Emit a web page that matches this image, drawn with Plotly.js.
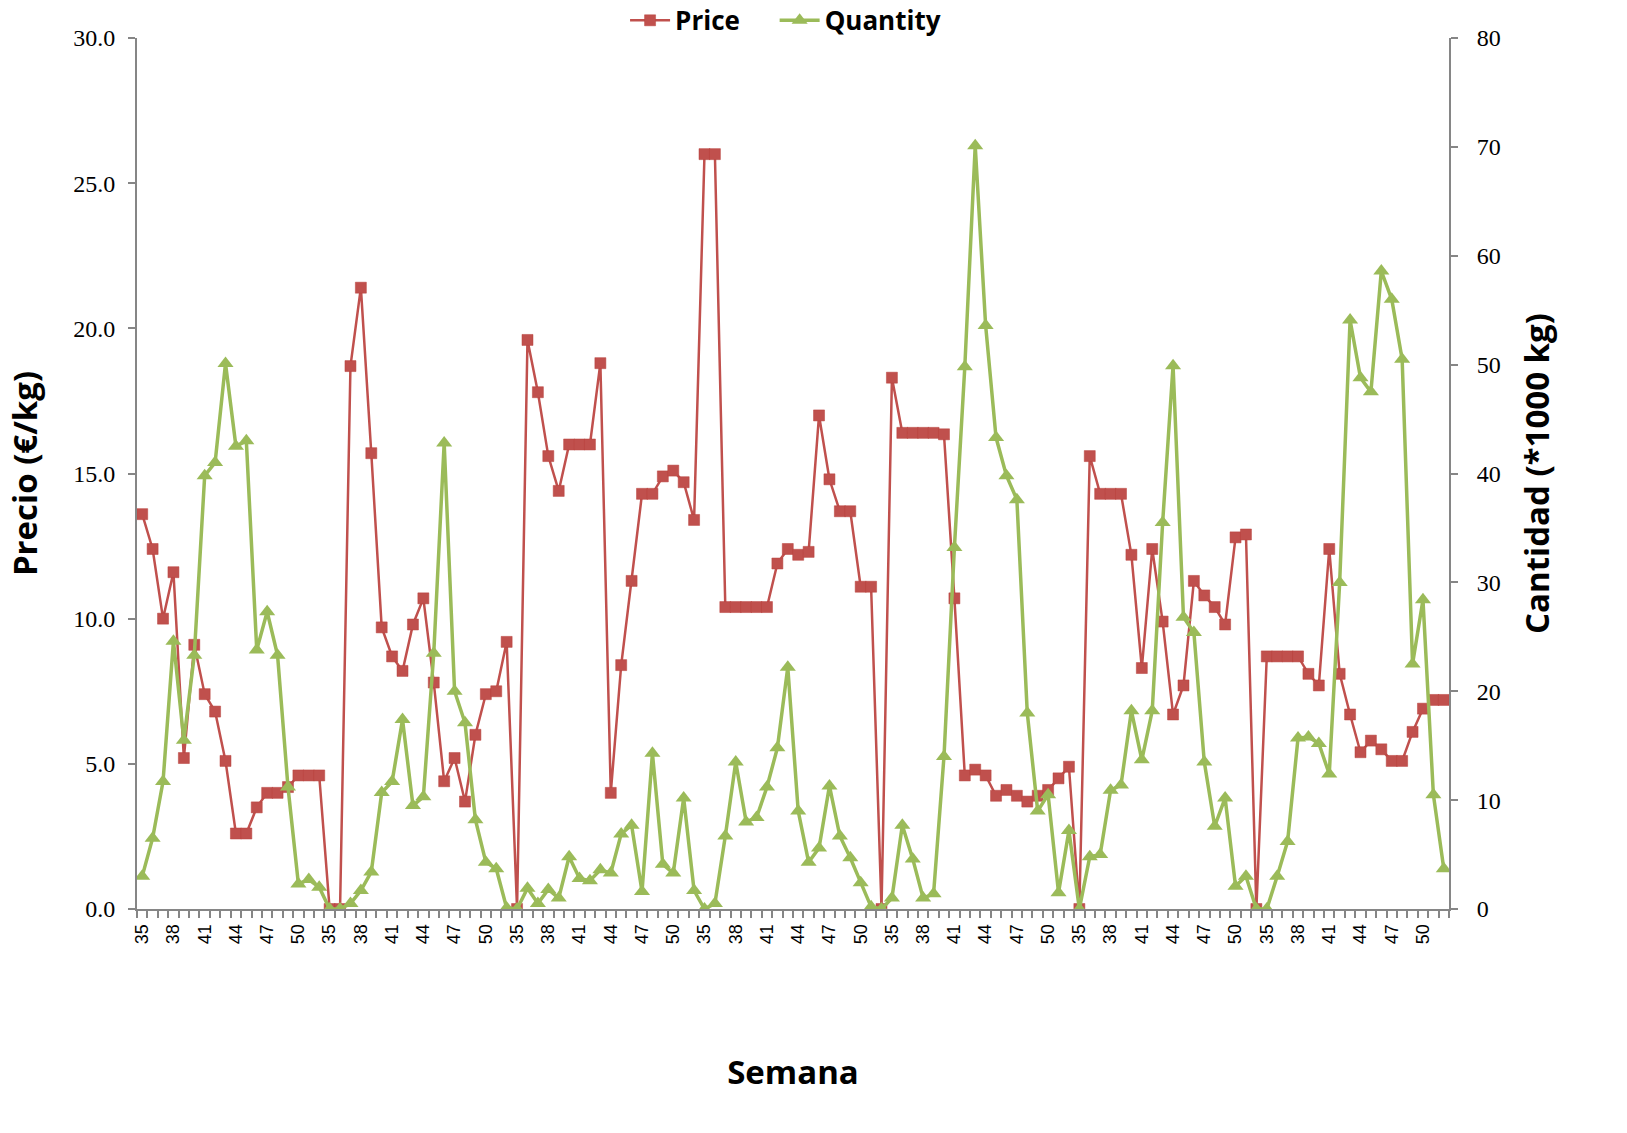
<!DOCTYPE html>
<html>
<head>
<meta charset="utf-8">
<script src="https://cdn.plot.ly/plotly-3.0.1.min.js"></script>
<style>
  html, body { margin: 0; padding: 0; background: #ffffff; }
  #chart { width: 1627px; height: 1133px; }
</style>
</head>
<body>
<div id="chart"></div>
<script>
// Week numbers of one season (categories repeat for every season)
const weeks = [35, 36, 37, 38, 39, 40, 41, 42, 43, 44, 45, 46, 47, 48, 49, 50, 51, 52];
const seasonCount = 7;

// Precio (€/kg)
const price = [
  13.6, 12.4, 10.0, 11.6, 5.2, 9.1, 7.4, 6.8, 5.1, 2.6, 2.6, 3.5, 4.0, 4.0, 4.2, 4.6, 4.6, 4.6,
  0, 0, 18.7, 21.4, 15.7, 9.7, 8.7, 8.2, 9.8, 10.7, 7.8, 4.4, 5.2, 3.7, 6.0, 7.4, 7.5, 9.2,
  0, 19.6, 17.8, 15.6, 14.4, 16.0, 16.0, 16.0, 18.8, 4.0, 8.4, 11.3, 14.3, 14.3, 14.9, 15.1, 14.7, 13.4,
  26.0, 26.0, 10.4, 10.4, 10.4, 10.4, 10.4, 11.9, 12.4, 12.2, 12.3, 17.0, 14.8, 13.7, 13.7, 11.1, 11.1, 0,
  18.3, 16.4, 16.4, 16.4, 16.4, 16.35, 10.7, 4.6, 4.8, 4.6, 3.9, 4.1, 3.9, 3.7, 3.9, 4.1, 4.5, 4.9,
  0, 15.6, 14.3, 14.3, 14.3, 12.2, 8.3, 12.4, 9.9, 6.7, 7.7, 11.3, 10.8, 10.4, 9.8, 12.8, 12.9, 0,
  8.7, 8.7, 8.7, 8.7, 8.1, 7.7, 12.4, 8.1, 6.7, 5.4, 5.8, 5.5, 5.1, 5.1, 6.1, 6.9, 7.2, 7.2
];

// Cantidad (*1000 kg)
const quantity = [
  3.0, 6.5, 11.7, 24.6, 15.5, 23.3, 39.8, 41.0, 50.1, 42.5, 43.0, 23.8, 27.3, 23.3, 11.2, 2.3, 2.7, 2.0,
  0, 0, 0.5, 1.7, 3.4, 10.7, 11.7, 17.4, 9.5, 10.3, 23.5, 42.8, 20.0, 17.1, 8.2, 4.3, 3.7, 0.1,
  0, 1.9, 0.5, 1.8, 1.0, 4.8, 2.8, 2.6, 3.6, 3.3, 6.9, 7.7, 1.6, 14.3, 4.1, 3.3, 10.2, 1.7,
  0, 0.5, 6.7, 13.5, 8.0, 8.4, 11.2, 14.8, 22.2, 9.0, 4.3, 5.6, 11.3, 6.7, 4.7, 2.4, 0.2, 0,
  1.0, 7.7, 4.6, 1.0, 1.4, 14.0, 33.2, 49.8, 70.1, 53.6, 43.3, 39.8, 37.6, 18.0, 9.0, 10.5, 1.5, 7.2,
  0, 4.8, 5.0, 10.9, 11.4, 18.2, 13.7, 18.2, 35.5, 49.9, 26.8, 25.4, 13.5, 7.6, 10.2, 2.1, 3.0, 0,
  0, 3.0, 6.2, 15.7, 15.8, 15.2, 12.4, 30.0, 54.1, 48.8, 47.5, 58.6, 56.0, 50.5, 22.5, 28.4, 10.5, 3.7
];

// Category positions (one per week of each season)
const xIdx = [];
const weekOfPoint = [];
for (let s = 0; s < seasonCount; s++) {
  for (let w = 0; w < weeks.length; w++) {
    xIdx.push(xIdx.length);
    weekOfPoint.push(weeks[w]);
  }
}
const tickVals = xIdx.filter(i => i % 3 === 0);
const tickText = tickVals.map(i => String(weekOfPoint[i]));

const RED = '#C0504D';
const GREEN = '#9BBB59';
const AXIS = '#868686';
const titleFont = { family: 'Open Sans, sans-serif', size: 33, color: '#000000', weight: 'bold' };
const valueFont = { family: 'Liberation Serif, Times New Roman, serif', size: 24, color: '#000000' };
const legendFont = { family: 'Open Sans, sans-serif', size: 26, color: '#000000', weight: 'bold' };

const traces = [
  {
    x: xIdx, y: price, name: 'Price', type: 'scatter', mode: 'lines+markers',
    line: { color: RED, width: 2.5 },
    marker: { symbol: 'square', size: 11, color: RED, line: { color: '#B9403D', width: 0.5 } },
    yaxis: 'y', legend: 'legend'
  },
  {
    x: xIdx, y: quantity, name: 'Quantity', type: 'scatter', mode: 'lines+markers',
    line: { color: GREEN, width: 3.5 },
    marker: { symbol: 'triangle-up', size: 14, color: GREEN },
    yaxis: 'y2', legend: 'legend2'
  }
];

const layout = {
  width: 1627, height: 1133,
  paper_bgcolor: '#ffffff', plot_bgcolor: '#ffffff',
  margin: { l: 137, r: 178, t: 38, b: 224, autoexpand: false },
  showlegend: true,
  legend: {
    orientation: 'h', x: 0.372, xanchor: 'left', yref: 'container', y: 0.982, yanchor: 'middle',
    font: legendFont, itemwidth: 40, bgcolor: 'rgba(0,0,0,0)'
  },
  legend2: {
    orientation: 'h', x: 0.486, xanchor: 'left', yref: 'container', y: 0.982, yanchor: 'middle',
    font: legendFont, itemwidth: 40, bgcolor: 'rgba(0,0,0,0)'
  },
  xaxis: {
    range: [-0.5, xIdx.length - 0.5],
    tickmode: 'array', tickvals: tickVals, ticktext: tickText,
    tickangle: -90, ticks: '',
    tickfont: { family: 'Liberation Sans, Arial, sans-serif', size: 18, color: '#000000' },
    ticklabelstandoff: 6,
    showline: true, linecolor: AXIS, linewidth: 2,
    showgrid: false, zeroline: false,
    minor: { tickmode: 'linear', tick0: -0.5, dtick: 1, ticks: 'outside', ticklen: 7, tickcolor: AXIS, tickwidth: 1.5, showgrid: false },
    title: { text: 'Semana', font: titleFont, standoff: 118 }
  },
  yaxis: {
    range: [0, 30], tickmode: 'linear', tick0: 0, dtick: 5, tickformat: '.1f',
    ticks: 'outside', ticklen: 7, tickcolor: AXIS, tickwidth: 1.5,
    tickfont: valueFont, ticklabelstandoff: 8,
    showline: true, linecolor: AXIS, linewidth: 2,
    showgrid: false, zeroline: false,
    title: { text: 'Precio (€/kg)', font: titleFont, standoff: 26 }
  },
  yaxis2: {
    range: [0, 80], tickmode: 'linear', tick0: 0, dtick: 10,
    overlaying: 'y', side: 'right',
    ticks: 'outside', ticklen: 7, tickcolor: AXIS, tickwidth: 1.5,
    tickfont: valueFont, ticklabelstandoff: 14,
    showline: true, linecolor: AXIS, linewidth: 2,
    showgrid: false, zeroline: false,
    title: { text: 'Cantidad (*1000 kg)', font: titleFont, standoff: 26 }
  }
};

Plotly.newPlot('chart', traces, layout, { displayModeBar: false, responsive: false });
</script>
</body>
</html>
